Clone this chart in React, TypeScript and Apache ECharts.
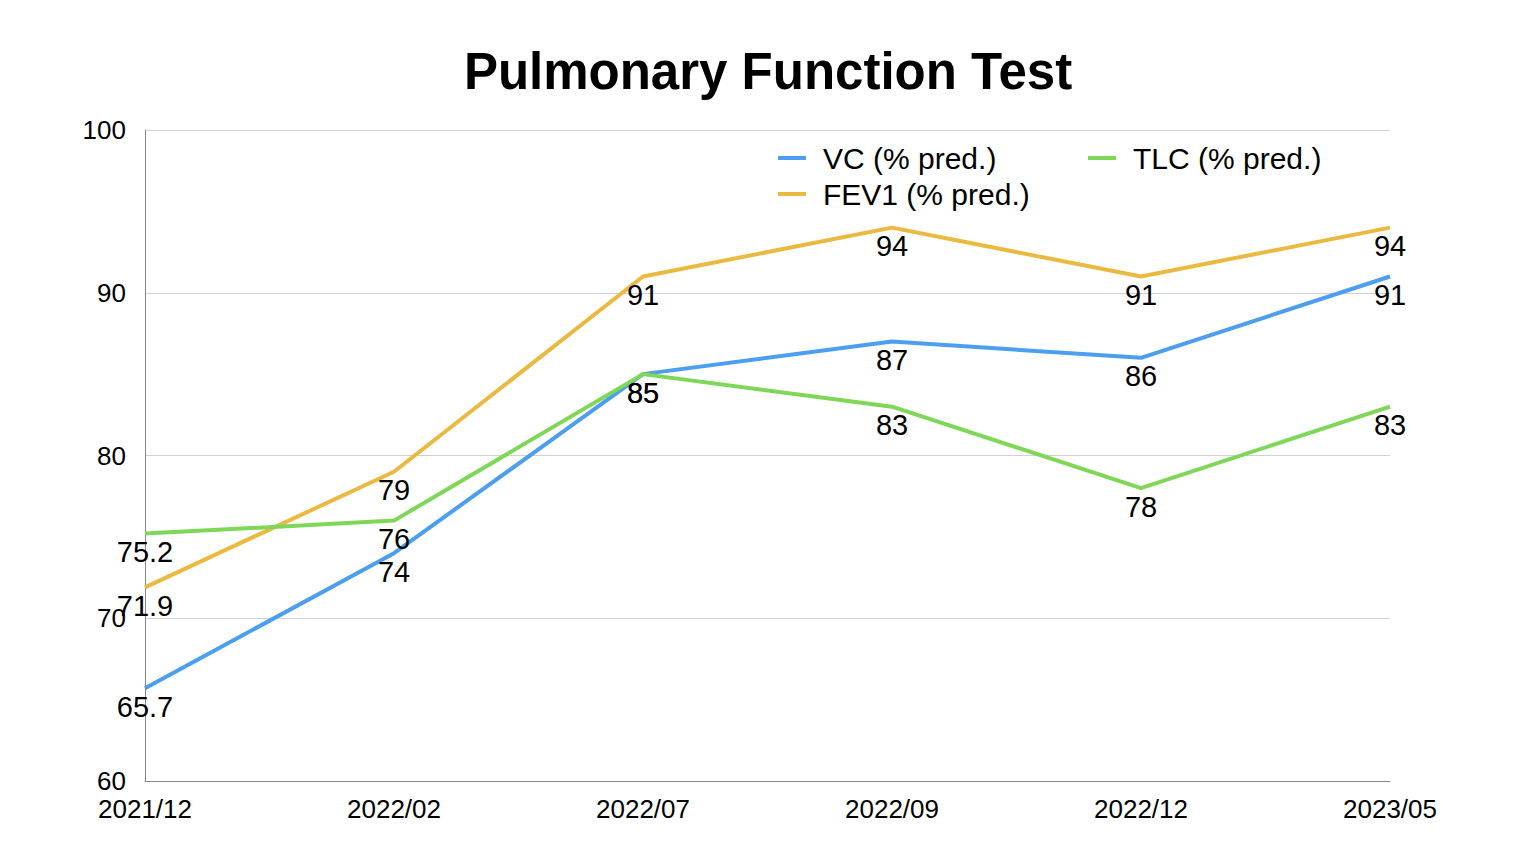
import React, { useEffect, useRef } from "react";
import * as echarts from "echarts";

const categories = ["2021/12", "2022/02", "2022/07", "2022/09", "2022/12", "2023/05"];
const vcValues = [65.7, 74, 85, 87, 86, 91];
const fev1Values = [71.9, 79, 91, 94, 91, 94];
const tlcValues = [75.2, 76, 85, 83, 78, 83];
const yTicks = [60, 70, 80, 90, 100];

const FONT = "'Liberation Sans', Arial, Helvetica, sans-serif";
const BLUE = "#4C9EEF";
const YELLOW = "#EBB940";
const GREEN = "#7ED757";

export default function App() {
  const ref = useRef<HTMLDivElement>(null);
  useEffect(() => {
    if (!ref.current) return;
    const chart = echarts.init(ref.current, undefined, { renderer: "svg" });
    const mkSeries = (name: string, data: number[], color: string) => ({
      name,
      type: "line",
      data,
      symbol: "circle",
      symbolSize: 0,
      showSymbol: true,
      lineStyle: { color, width: 4 },
      itemStyle: { color },
      label: {
        show: true,
        position: "bottom",
        distance: 4,
        color: "#000",
        fontSize: 29,
        fontFamily: FONT,
      },
      emphasis: { disabled: true },
    });
    const legendCommon = {
      orient: "vertical",
      itemWidth: 28,
      itemHeight: 4,
      itemGap: 6,
      icon: "rect",
      textStyle: { fontSize: 30, fontFamily: FONT, color: "#000", padding: [0, 0, 0, 12] },
    };
    chart.setOption({
      animation: false,
      backgroundColor: "#fff",
      title: {
        text: "Pulmonary Function Test",
        left: "center",
        top: 41,
        textStyle: { fontSize: 51, fontWeight: "bold", fontFamily: FONT, color: "#000" },
      },
      legend: [
        { ...legendCommon, left: 773, top: 138, data: ["VC (% pred.)", "FEV1 (% pred.)"] },
        { ...legendCommon, left: 1083, top: 138, data: ["TLC (% pred.)"] },
      ],
      grid: { left: 145, right: 146, top: 130, bottom: 83, containLabel: false },
      xAxis: {
        type: "category",
        data: categories,
        boundaryGap: false,
        axisLine: { show: true, lineStyle: { color: "#888", width: 1 } },
        axisTick: { show: false },
        axisLabel: { color: "#000", fontSize: 26, fontFamily: FONT, margin: 15, interval: 0 },
        splitLine: { show: false },
      },
      yAxis: {
        type: "value",
        min: yTicks[0],
        max: yTicks[yTicks.length - 1],
        interval: 10,
        axisLine: { show: true, lineStyle: { color: "#888", width: 1 } },
        axisTick: { show: false },
        axisLabel: { color: "#000", fontSize: 26, fontFamily: FONT, margin: 19 },
        splitLine: { show: true, lineStyle: { color: "#d0d0d0", width: 1 } },
      },
      series: [
        mkSeries("VC (% pred.)", vcValues, BLUE),
        mkSeries("FEV1 (% pred.)", fev1Values, YELLOW),
        mkSeries("TLC (% pred.)", tlcValues, GREEN),
      ],
    });
    return () => chart.dispose();
  }, []);
  return (
    <div
      ref={ref}
      style={{ position: "absolute", left: 0, top: 0, width: 1536, height: 864, background: "#fff" }}
    />
  );
}
